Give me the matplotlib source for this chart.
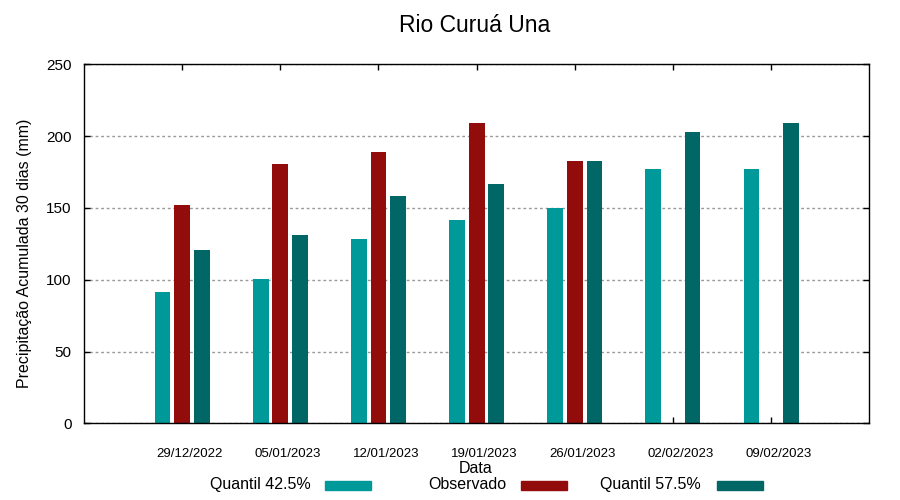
import matplotlib.pyplot as plt
from matplotlib.patches import Rectangle
import numpy as np

plt.rcParams['font.family'] = ['Liberation Sans', 'DejaVu Sans']

datas = ['29/12/2022', '05/01/2023', '12/01/2023', '19/01/2023',
         '26/01/2023', '02/02/2023', '09/02/2023']
quantil_425 = [91.4, 100.5, 128.3, 141.6, 149.9, 177.1, 177.1]
observado = [152.0, 180.6, 188.9, 209.1, 182.7, np.nan, np.nan]
quantil_575 = [120.7, 131.1, 158.3, 166.6, 182.7, 202.9, 209.1]

cor_q425 = '#009999'
cor_obs = '#920c0c'
cor_q575 = '#006666'

fig = plt.figure(figsize=(9, 5), dpi=100)
ax = fig.add_axes([84 / 900, 1 - 423.3 / 500, (869.3 - 84) / 900, (423.3 - 64.3) / 500])

x = np.arange(len(datas))
w = 0.16
off = 0.2
ax.bar(x - off, quantil_425, w, color=cor_q425, zorder=2)
ax.bar(x, observado, w, color=cor_obs, zorder=2)
ax.bar(x + off, quantil_575, w, color=cor_q575, zorder=2)

ax.set_xlim(-1, 7)
ax.set_ylim(0, 250)
ax.set_yticks(range(0, 251, 50))
# marcas nos grupos, rótulos (minor) um pouco à direita como no original
ax.set_xticks(x)
ax.set_xticklabels([])
ax.set_xticks(x + 0.075, minor=True)
ax.set_xticklabels(datas, minor=True, fontsize=9.5)

ax.tick_params(axis='both', direction='in', length=4, width=1,
               top=True, right=True)
ax.tick_params(axis='x', which='minor', length=0, pad=17.5)
ax.tick_params(axis='y', labelsize=11, pad=9)
for s in ax.spines.values():
    s.set_linewidth(1)

ax.set_axisbelow(True)
ax.yaxis.grid(True, color='#999999', linestyle=(0, (2, 2)), linewidth=1)

fig.text(475 / 900, 1 - 32 / 500, 'Rio Curuá Una', ha='center', va='baseline', fontsize=16.5)
fig.text(476 / 900, 1 - 473 / 500, 'Data', ha='center', va='baseline', fontsize=11.5)
fig.text(25 / 900, 1 - 253 / 500, 'Precipitação Acumulada 30 dias (mm)',
         rotation=90, ha='center', va='center', fontsize=11.5)

# legenda manual abaixo do gráfico
legenda = [('Quantil 42.5%', cor_q425, 311, 325),
           ('Observado', cor_obs, 506, 521),
           ('Quantil 57.5%', cor_q575, 701, 717)]
for texto, cor, xt, xr in legenda:
    fig.text(xt / 900, 1 - 489 / 500, texto, ha='right', va='baseline', fontsize=11.5)
    fig.patches.append(Rectangle((xr / 900, 1 - 489.5 / 500), 46 / 900, 8.5 / 500,
                                 transform=fig.transFigure, color=cor))

fig.savefig('out.png', dpi=100)
